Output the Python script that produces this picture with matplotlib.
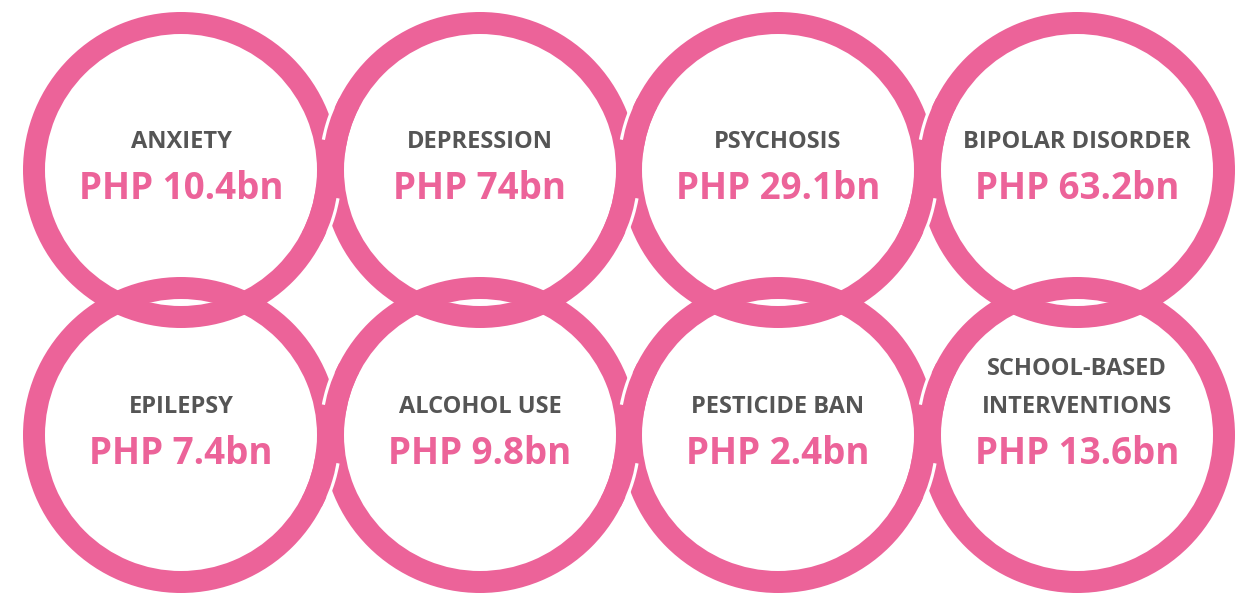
import numpy as np
import matplotlib.pyplot as plt
from matplotlib.patches import Wedge, Arc

# du lieu
labels = ['ANXIETY', 'DEPRESSION', 'PSYCHOSIS', 'BIPOLAR DISORDER',
          'EPILEPSY', 'ALCOHOL USE', 'PESTICIDE BAN', 'SCHOOL-BASED\nINTERVENTIONS']
values = [10.4, 74, 29.1, 63.2, 7.4, 9.8, 2.4, 13.6]
unit_prefix = 'PHP'
unit_suffix = 'bn'

pink = '#EC6399'
grey = '#555555'

# hinh hoc vong tron (pixel)
col_x = [181, 480, 778, 1077]
row_y = [170, 435]
r_out = 158
ring_w = 22

fig = plt.figure(figsize=(12.43, 5.94), dpi=100)
ax = fig.add_axes([0, 0, 1, 1])
ax.set_xlim(0, 1243)
ax.set_ylim(594, 0)
ax.set_aspect('equal')
ax.axis('off')

centers = [(x, y) for y in row_y for x in col_x]

# ve cac vong
for (cx, cy) in centers:
    ax.add_patch(Wedge((cx, cy), r_out, 0, 360, width=ring_w, facecolor=pink, edgecolor='none', zorder=1))


def goc(dy, side):
    # goc (do) tren duong tron ngoai ung voi do lech dy, side=+1 ben phai, -1 ben trai
    a = np.degrees(np.arcsin(dy / r_out))
    return a if side > 0 else 180 - a


# hieu ung dan xen giua hai vong ke nhau trong cung hang
for cy in row_y:
    for i in range(len(col_x) - 1):
        xl, xr = col_x[i], col_x[i + 1]
        # phia tren: vong ben phai nam tren
        t1, t2 = sorted([goc(-30, -1), goc(-62, -1)])
        ax.add_patch(Arc((xr, cy), 2 * r_out, 2 * r_out, theta1=t1, theta2=t2,
                         color='white', lw=4.5, zorder=2))
        ax.add_patch(Wedge((xr, cy), r_out, t1 - 4, t2 + 4, width=ring_w,
                           facecolor=pink, edgecolor='none', zorder=3))
        # phia duoi: vong ben trai nam tren
        t1, t2 = sorted([goc(28, 1), goc(62, 1)])
        ax.add_patch(Arc((xl, cy), 2 * r_out, 2 * r_out, theta1=t1, theta2=t2,
                         color='white', lw=4.5, zorder=2))
        ax.add_patch(Wedge((xl, cy), r_out, t1 - 4, t2 + 4, width=ring_w,
                           facecolor=pink, edgecolor='none', zorder=3))

# chu
for (cx, cy), lab, v in zip(centers, labels, values):
    lines = lab.split('\n')
    for k, line in enumerate(reversed(lines)):
        ax.text(cx, cy - 22 - k * 38, line, ha='center', va='baseline',
                fontsize=17, fontweight='bold', family='Open Sans', color=grey, zorder=5)
    ax.text(cx, cy + 29, f'{unit_prefix} {v:g}{unit_suffix}', ha='center', va='baseline',
            fontsize=26.5, fontweight='bold', family='Open Sans', color=pink, zorder=5)

fig.savefig('out.png', dpi=100, facecolor='white')
